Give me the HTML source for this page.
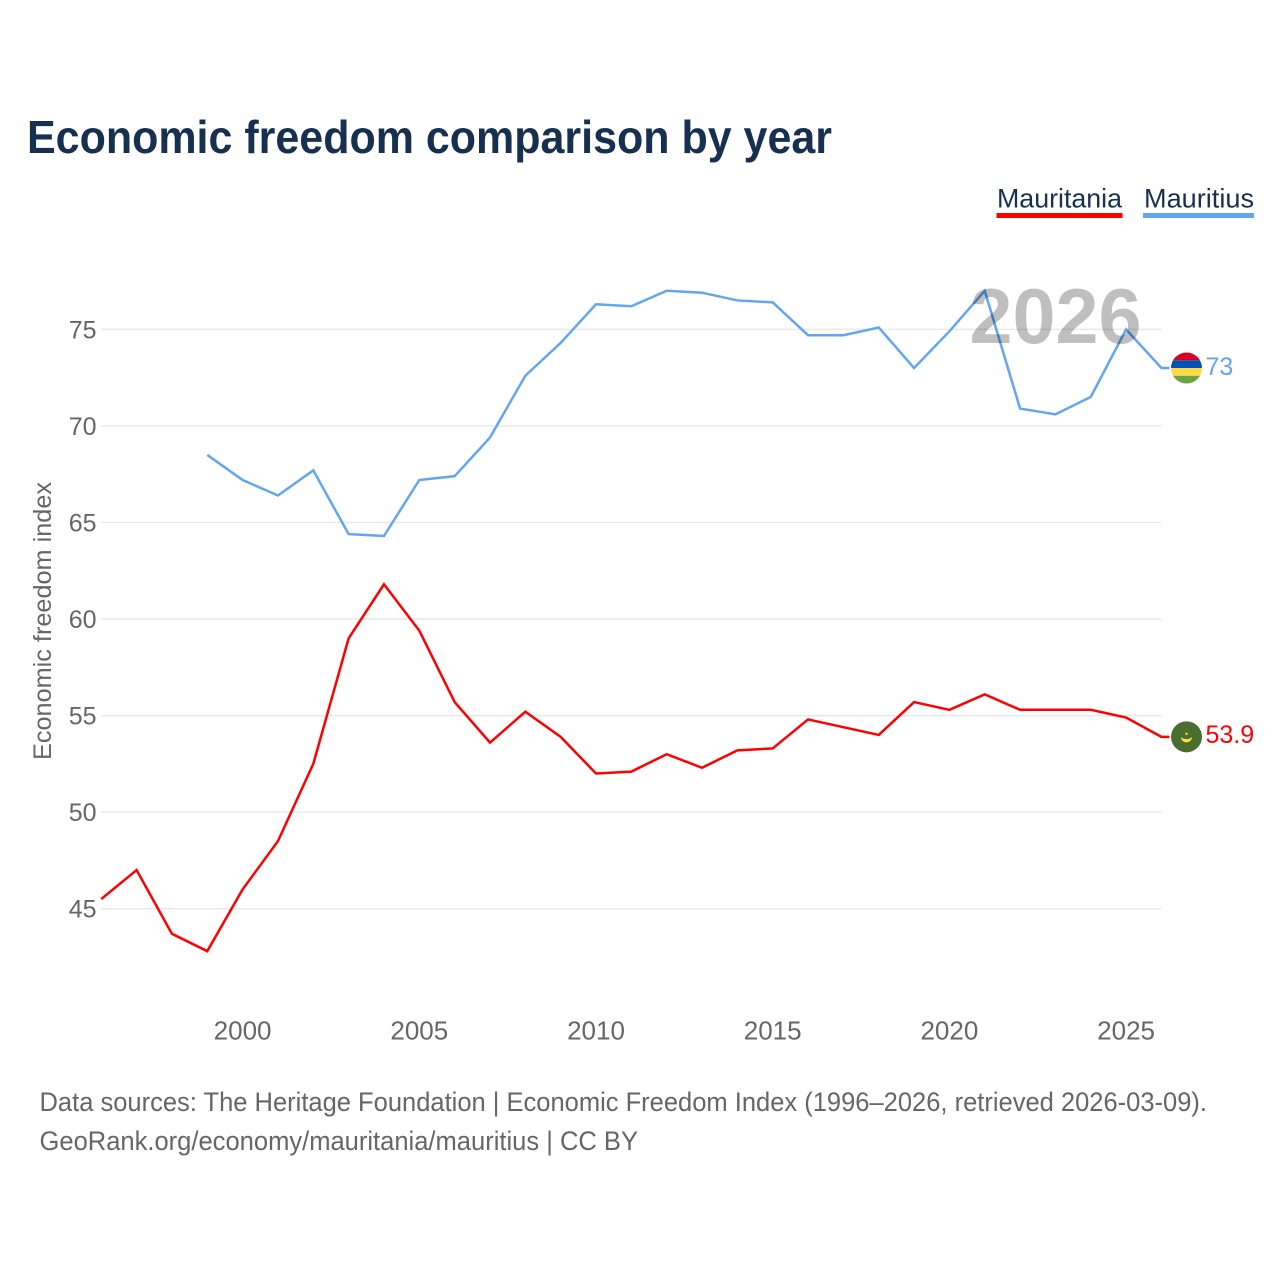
<!DOCTYPE html>
<html lang="en">
<head>
<meta charset="utf-8">
<title>Economic freedom comparison by year</title>
<style>
html,body{margin:0;padding:0;background:#fff;width:1280px;height:1280px;overflow:hidden}
svg{display:block}
text{font-family:"Liberation Sans",sans-serif}
</style>
</head>
<body>
<svg id="chart" xmlns="http://www.w3.org/2000/svg" width="1280" height="1280" viewBox="0 0 1280 1280">
  <text x="27" y="153" font-size="46" font-weight="700" fill="#18304f" textLength="805" lengthAdjust="spacingAndGlyphs">Economic freedom comparison by year</text>

  <g>
    <g>
      <text x="997" y="207.500" font-size="27" fill="#18304f" textLength="125" lengthAdjust="spacingAndGlyphs">Mauritania</text>
      <rect x="996.500" y="213" width="126" height="5" fill="#ff0000"/>
    </g>
    <g>
      <text x="1144" y="207.500" font-size="27" fill="#18304f" textLength="110" lengthAdjust="spacingAndGlyphs">Mauritius</text>
      <rect x="1143" y="213" width="111" height="5" fill="#62a6ee"/>
    </g>
  </g>

  <g id="grid"></g>
  <g id="yticks"></g>
  <g id="xticks"></g>
  <text transform="translate(51 760) rotate(-90)" font-size="25" fill="#666666" textLength="278" lengthAdjust="spacingAndGlyphs">Economic freedom index</text>

  <g id="series"></g>

  <text x="969.500" y="343" font-size="78" font-weight="700" fill="#000000" fill-opacity="0.25" textLength="172" lengthAdjust="spacingAndGlyphs">2026</text>

  <defs>
    <clipPath id="flag-clip-mauritius"><circle id="clip-circle-mauritius" cx="1186.500" cy="367" r="15.500"/></clipPath>
  </defs>
  <g id="flags"></g>

  <text x="39.500" y="1111" font-size="26.500" fill="#666666" textLength="1167.500" lengthAdjust="spacingAndGlyphs">Data sources: The Heritage Foundation | Economic Freedom Index (1996–2026, retrieved 2026-03-09).</text>
  <text x="39.500" y="1150" font-size="26.500" fill="#666666" textLength="598.500" lengthAdjust="spacingAndGlyphs">GeoRank.org/economy/mauritania/mauritius | CC BY</text>
</svg>
<script>
const years = [1996,1997,1998,1999,2000,2001,2002,2003,2004,2005,2006,2007,2008,2009,2010,2011,2012,2013,2014,2015,2016,2017,2018,2019,2020,2021,2022,2023,2024,2025,2026];
const mauritaniaValues = [45.5,47,43.7,42.8,46,48.5,52.5,59,61.8,59.4,55.7,53.6,55.2,53.9,52,52.1,53,52.3,53.2,53.3,54.8,54.4,54,55.7,55.3,56.1,55.3,55.3,55.3,54.9,53.9];
const mauritiusValues = [null,null,null,68.5,67.2,66.4,67.7,64.4,64.3,67.2,67.4,69.4,72.6,74.3,76.3,76.2,77,76.9,76.5,76.4,74.7,74.7,75.1,73,74.9,77,70.9,70.6,71.5,75,73];
const yTickValues = [45,50,55,60,65,70,75];
const xTickValues = [2000,2005,2010,2015,2020,2025];

const NS = 'http://www.w3.org/2000/svg';
const xScale = function (year) { return 242.6 + (year - 2000) * 35.34; };
const yScale = function (value) { return 908.7 - (value - 45) * 19.31; };
const PLOT_LEFT = xScale(years[0]);
const PLOT_RIGHT = xScale(years[years.length - 1]);

const gridLayer = document.getElementById('grid');
const yTickLayer = document.getElementById('yticks');
const xTickLayer = document.getElementById('xticks');
const seriesLayer = document.getElementById('series');
const flagLayer = document.getElementById('flags');

yTickValues.forEach(function (v) {
  const line = document.createElementNS(NS, 'line');
  
  
  line.setAttribute('x1', PLOT_LEFT);
  line.setAttribute('x2', PLOT_RIGHT);
  line.setAttribute('y1', yScale(v));
  line.setAttribute('y2', yScale(v));
  line.setAttribute('stroke', '#e9e9e9');
  line.setAttribute('stroke-width', '1.500');
  gridLayer.appendChild(line);

  const label = document.createElementNS(NS, 'text');
  
  
  label.setAttribute('x', 96.5);
  label.setAttribute('y', yScale(v) + 9);
  label.setAttribute('text-anchor', 'end');
  label.setAttribute('font-size', '25');
  label.setAttribute('fill', '#666666');
  label.textContent = String(v);
  yTickLayer.appendChild(label);
});

xTickValues.forEach(function (yr) {
  const label = document.createElementNS(NS, 'text');
  
  
  label.setAttribute('x', xScale(yr));
  label.setAttribute('y', 1039.5);
  label.setAttribute('text-anchor', 'middle');
  label.setAttribute('font-size', '26');
  label.setAttribute('fill', '#666666');
  label.textContent = String(yr);
  xTickLayer.appendChild(label);
});

function pathFor(values) {
  let d = '';
  values.forEach(function (v, i) {
    if (v === null) return;
    d += (d ? 'L' : 'M') + xScale(years[i]).toFixed(2) + ' ' + yScale(v).toFixed(2);
  });
  return d;
}

const lastIndex = years.length - 1;

const mauritaniaLine = document.createElementNS(NS, 'path');


mauritaniaLine.setAttribute('d', pathFor(mauritaniaValues) + 'h8');
mauritaniaLine.setAttribute('fill', 'none');
mauritaniaLine.setAttribute('stroke', '#ff0000');
mauritaniaLine.setAttribute('stroke-width', '2.500');
mauritaniaLine.setAttribute('stroke-linejoin', 'miter');
seriesLayer.appendChild(mauritaniaLine);

const mauritiusLine = document.createElementNS(NS, 'path');


mauritiusLine.setAttribute('d', pathFor(mauritiusValues) + 'h8');
mauritiusLine.setAttribute('fill', 'none');
mauritiusLine.setAttribute('stroke', '#62a6ee');
mauritiusLine.setAttribute('stroke-width', '2.500');
mauritiusLine.setAttribute('stroke-linejoin', 'miter');
seriesLayer.appendChild(mauritiusLine);

/* Mauritius flag marker */
const mauritiusY = yScale(mauritiusValues[lastIndex]);
const clipCircle = document.getElementById('clip-circle-mauritius');
clipCircle.setAttribute('cy', mauritiusY);
const mauritiusFlag = document.createElementNS(NS, 'g');


mauritiusFlag.setAttribute('clip-path', 'url(#flag-clip-mauritius)');
['#d80027', '#0052b4', '#ffda44', '#6da544'].forEach(function (color, i) {
  const stripe = document.createElementNS(NS, 'rect');
  
  
  stripe.setAttribute('x', 1171);
  stripe.setAttribute('y', mauritiusY - 15.5 + i * 7.75);
  stripe.setAttribute('width', 31);
  stripe.setAttribute('height', 7.75);
  stripe.setAttribute('fill', color);
  mauritiusFlag.appendChild(stripe);
});
flagLayer.appendChild(mauritiusFlag);

/* Mauritania flag marker */
const mauritaniaY = yScale(mauritaniaValues[lastIndex]);
const mauritaniaFlag = document.createElementNS(NS, 'g');


mauritaniaFlag.setAttribute('transform', 'translate(1186.5 ' + mauritaniaY + ')');
const flagDisc = document.createElementNS(NS, 'circle');


flagDisc.setAttribute('r', '15.500');
flagDisc.setAttribute('fill', '#496e2d');
mauritaniaFlag.appendChild(flagDisc);
const flagCrescent = document.createElementNS(NS, 'path');


flagCrescent.setAttribute('d', 'M-5.500 0A5.500 5.500 0 0 0 5.500 0A6 3.500 0 0 1 -5.500 0Z');
flagCrescent.setAttribute('fill', '#ffda44');
mauritaniaFlag.appendChild(flagCrescent);
const flagStar = document.createElementNS(NS, 'circle');


flagStar.setAttribute('cy', '-3');
flagStar.setAttribute('r', '1.200');
flagStar.setAttribute('fill', '#ffda44');
mauritaniaFlag.appendChild(flagStar);
flagLayer.appendChild(mauritaniaFlag);

/* End value labels */
const mauritaniaLabel = document.createElementNS(NS, 'text');


mauritaniaLabel.setAttribute('x', 1205.5);
mauritaniaLabel.setAttribute('y', mauritaniaY + 6);
mauritaniaLabel.setAttribute('font-size', '25');
mauritaniaLabel.setAttribute('fill', '#ff0000');
mauritaniaLabel.textContent = String(mauritaniaValues[lastIndex]);
flagLayer.appendChild(mauritaniaLabel);

const mauritiusLabel = document.createElementNS(NS, 'text');


mauritiusLabel.setAttribute('x', 1205.5);
mauritiusLabel.setAttribute('y', mauritiusY + 7);
mauritiusLabel.setAttribute('font-size', '25');
mauritiusLabel.setAttribute('fill', '#62a6ee');
mauritiusLabel.textContent = String(mauritiusValues[lastIndex]);
flagLayer.appendChild(mauritiusLabel);
</script>
</body>
</html>
